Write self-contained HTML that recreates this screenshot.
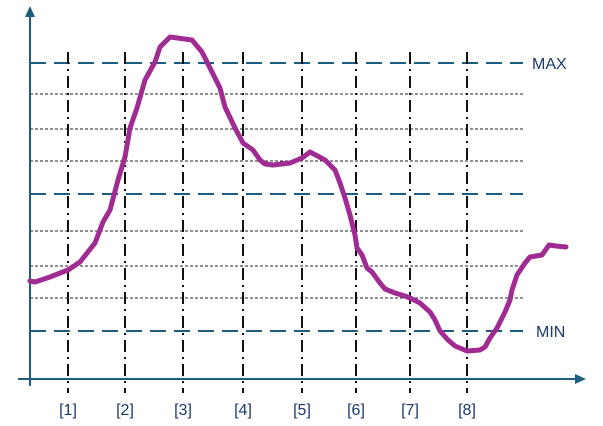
<!DOCTYPE html>
<html><head><meta charset="utf-8"><style>
html,body{margin:0;padding:0;background:#fff;}
svg{display:block;font-family:"Liberation Sans",sans-serif;}
</style></head><body>
<svg id="chart" width="603" height="426" viewBox="0 0 603 426">
<g id="grid"></g>
<g id="axes">
  <line x1="30" y1="386" x2="30" y2="14" stroke="#1b5e80" stroke-width="2"/>
  <polygon points="30,6 25,17 35,17" fill="#1b5e80"/>
  <line x1="18" y1="379" x2="578" y2="379" stroke="#1b5e80" stroke-width="2"/>
  <polygon points="586,379 575,374 575,384" fill="#1b5e80"/>
</g>
<g id="labels"></g>
<path id="curve" fill="none" stroke="#a02c93" stroke-width="5" stroke-linejoin="round" stroke-linecap="round"/>
<text x="532" y="69" font-size="16" fill="#1c3a6b">MAX</text>
<text x="536" y="337" font-size="16" fill="#1c3a6b">MIN</text>
</svg>
<script>
// data units: x = px offset from origin, y = height above x-axis
const tickLabels = ["[1]","[2]","[3]","[4]","[5]","[6]","[7]","[8]"];
const tickPositions = [38,95,153,213,272,326,380,437];
const limitLevels = [316,185,48];      // MAX, mid, MIN (dashed blue)
const minorLevels = [285,250,218,148,113,81];
const curveX = [0,5,20,38,50,65,73,80,88,95,100,107,115,125,130,140,162,167,172,180,190,195,205,213,223,230,235,243,260,272,280,295,305,310,315,320,325,327,332,337,342,350,355,365,375,380,390,400,405,410,418,425,437,450,455,460,467,475,480,482,487,495,500,512,519,526,536];
const curveY = [98,97,102,109,117,136,157,169,199,222,251,271,299,317,332,342,339,333,327,311,291,272,251,236,229,219,215,214,216,221,227,219,209,196,181,164,144,131,124,111,107,96,90,86,83,81,76,67,59,48,39,33,28,29,32,41,51,67,79,89,104,116,122,124,134,133,132];

const X0=30, Y0=379;
const xs = v => X0 + v;
const ys = v => Y0 - v;
const NS="http://www.w3.org/2000/svg";
const grid=document.getElementById('grid'), labels=document.getElementById('labels');

minorLevels.forEach(v=>{
  const l=document.createElementNS(NS,'line');
  l.setAttribute('x1',30);l.setAttribute('x2',523);
  l.setAttribute('y1',ys(v));l.setAttribute('y2',ys(v));
  l.setAttribute('stroke','#222');l.setAttribute('stroke-width','1');l.setAttribute('stroke-dasharray','3 2');
  
  
  grid.appendChild(l);
});
limitLevels.forEach(v=>{
  const l=document.createElementNS(NS,'line');
  l.setAttribute('x1',30);l.setAttribute('x2',523);
  l.setAttribute('y1',ys(v));l.setAttribute('y2',ys(v));
  l.setAttribute('stroke','#1b5e80');l.setAttribute('stroke-width','2');l.setAttribute('stroke-dasharray','16 8');
  
  
  grid.appendChild(l);
});
tickPositions.forEach((v,i)=>{
  const l=document.createElementNS(NS,'line');
  l.setAttribute('x1',xs(v));l.setAttribute('x2',xs(v));
  l.setAttribute('y1',52);l.setAttribute('y2',393);
  l.setAttribute('stroke','#111');l.setAttribute('stroke-width','2');l.setAttribute('stroke-dasharray','12 5 2 5');
  
  
  grid.appendChild(l);
  const t=document.createElementNS(NS,'text');
  t.setAttribute('x',xs(v));t.setAttribute('y',415);t.setAttribute('text-anchor','middle');
  t.setAttribute('font-size','16');t.setAttribute('fill','#1c3a6b');
  t.textContent=tickLabels[i];
  
  
  labels.appendChild(t);
});
let d='';
curveX.forEach((v,i)=>{ d+=(i?'L':'M')+xs(v)+','+ys(curveY[i]); });
document.getElementById('curve').setAttribute('d',d);
</script>
</body></html>
